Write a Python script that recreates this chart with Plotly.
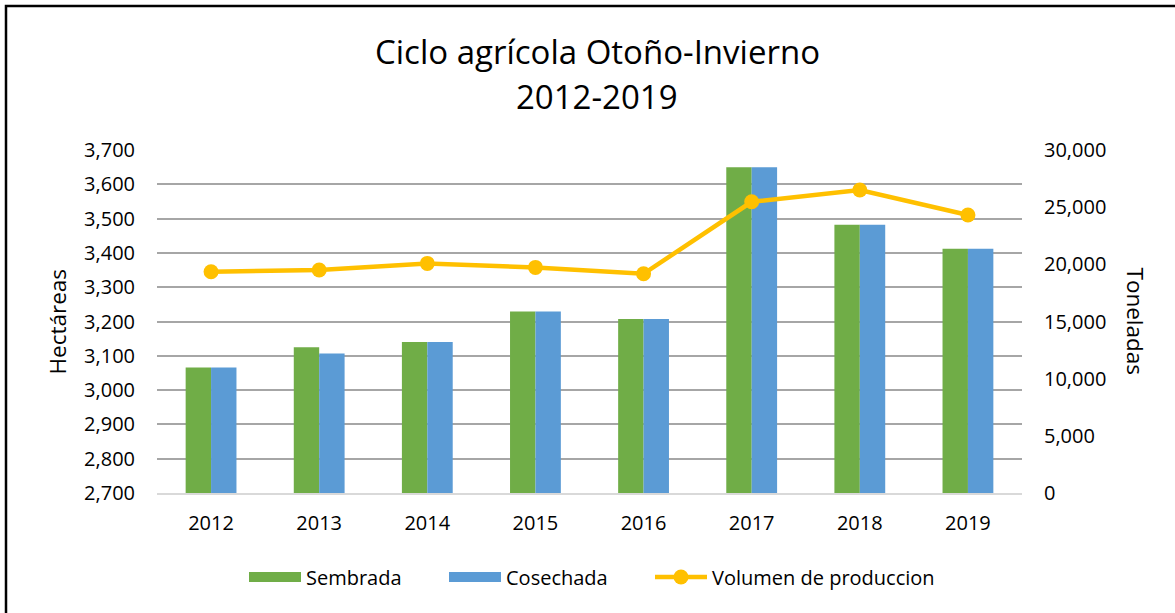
import plotly.graph_objects as go

years = ["2012", "2013", "2014", "2015", "2016", "2017", "2018", "2019"]
sembrada = [3066, 3125, 3140, 3229, 3207, 3650, 3482, 3412]
cosechada = [3066, 3107, 3140, 3229, 3207, 3650, 3482, 3412]
volumen = [19350, 19500, 20080, 19730, 19170, 25470, 26500, 24310]

title_line1 = "Ciclo agrícola Otoño-Invierno"
title_line2 = "2012-2019"

GREEN = "#70AD47"
BLUE = "#5B9BD5"
GOLD = "#FFC000"
FONT = "Open Sans"
TXT = "#000000"

W, H = 1175, 613
ML, MR, MT, MB = 157, 153, 150, 120
PW, PH = W - ML - MR, H - MT - MB


def px_x(x):
    return (x - ML) / PW


def px_y(y):
    return (H - MB - y) / PH


fig = go.Figure()
fig.add_bar(x=years, y=sembrada, name="Sembrada", marker=dict(color=GREEN, line=dict(width=0)),
            legendgroup="s", showlegend=False, yaxis="y")
fig.add_bar(x=years, y=cosechada, name="Cosechada", marker=dict(color=BLUE, line=dict(width=0)),
            legendgroup="c", showlegend=False, yaxis="y")
# legend-only swatches (wide rectangles like the original)
fig.add_scatter(x=[None], y=[None], mode="lines", name="Sembrada", legendgroup="s",
                line=dict(color=GREEN, width=14), yaxis="y", legend="legend")
fig.add_scatter(x=[None], y=[None], mode="lines", name="Cosechada", legendgroup="c",
                line=dict(color=BLUE, width=14), yaxis="y", legend="legend")
fig.add_scatter(x=years, y=volumen, mode="lines+markers", name="Volumen de produccion",
                line=dict(color=GOLD, width=4.5), marker=dict(color=GOLD, size=15),
                yaxis="y2", legend="legend2")

legend_common = dict(orientation="h", y=px_y(577), yanchor="middle",
                     font=dict(size=20, family=FONT, color=TXT), bgcolor="rgba(0,0,0,0)",
                     itemwidth=52, traceorder="normal")

fig.update_layout(
    width=W, height=H, autosize=False,
    margin=dict(l=ML, r=MR, t=MT, b=MB, pad=0),
    paper_bgcolor="white", plot_bgcolor="white",
    font=dict(family=FONT, color=TXT, size=20),
    barmode="group", bargap=0.53, bargroupgap=0,
    xaxis=dict(type="category", showgrid=False, showline=True, linecolor="#D9D9D9", linewidth=2,
               ticks="outside", ticklen=11, tickcolor="rgba(0,0,0,0)",
               tickfont=dict(size=20, family=FONT, color=TXT), zeroline=False),
    yaxis=dict(range=[2700, 3700], dtick=100, tickformat=",", showgrid=True, gridcolor="#A6A6A6",
               gridwidth=2, zeroline=False, showline=False, ticks="outside", ticklen=17,
               tickcolor="rgba(0,0,0,0)", tickfont=dict(size=20, family=FONT, color=TXT)),
    yaxis2=dict(range=[0, 30000], dtick=5000, tickformat=",", overlaying="y", side="right",
                showgrid=False, zeroline=False, showline=False, ticks="outside", ticklen=17,
                tickcolor="rgba(0,0,0,0)", tickfont=dict(size=20, family=FONT, color=TXT)),
    legend=dict(legend_common, x=px_x(244), xanchor="left",
                entrywidth=133, entrywidthmode="pixels"),
    legend2=dict(legend_common, x=px_x(650), xanchor="left"),
    showlegend=True,
)

fig.add_annotation(text=title_line1, xref="paper", yref="paper", x=px_x(597), y=px_y(51),
                   xanchor="center", yanchor="middle", showarrow=False,
                   font=dict(size=33, family=FONT, color=TXT))
fig.add_annotation(text=title_line2, xref="paper", yref="paper", x=px_x(597), y=px_y(97),
                   xanchor="center", yanchor="middle", showarrow=False,
                   font=dict(size=33, family=FONT, color=TXT))
fig.add_annotation(text="Hectáreas", xref="paper", yref="paper", x=px_x(57), y=0.5,
                   xanchor="center", yanchor="middle", showarrow=False, textangle=-90,
                   font=dict(size=22.5, family=FONT, color=TXT))
fig.add_annotation(text="Toneladas", xref="paper", yref="paper", x=px_x(1135), y=0.5,
                   xanchor="center", yanchor="middle", showarrow=False, textangle=90,
                   font=dict(size=22.5, family=FONT, color=TXT))

# outer chart border
fig.add_shape(type="rect", xref="paper", yref="paper",
              x0=px_x(6), x1=px_x(1190), y0=px_y(630), y1=px_y(6),
              line=dict(color="black", width=2.5), fillcolor="rgba(0,0,0,0)", layer="above")

fig.write_html("out.html", config={"displayModeBar": False},
               post_script="document.body.style.margin='0px';")
